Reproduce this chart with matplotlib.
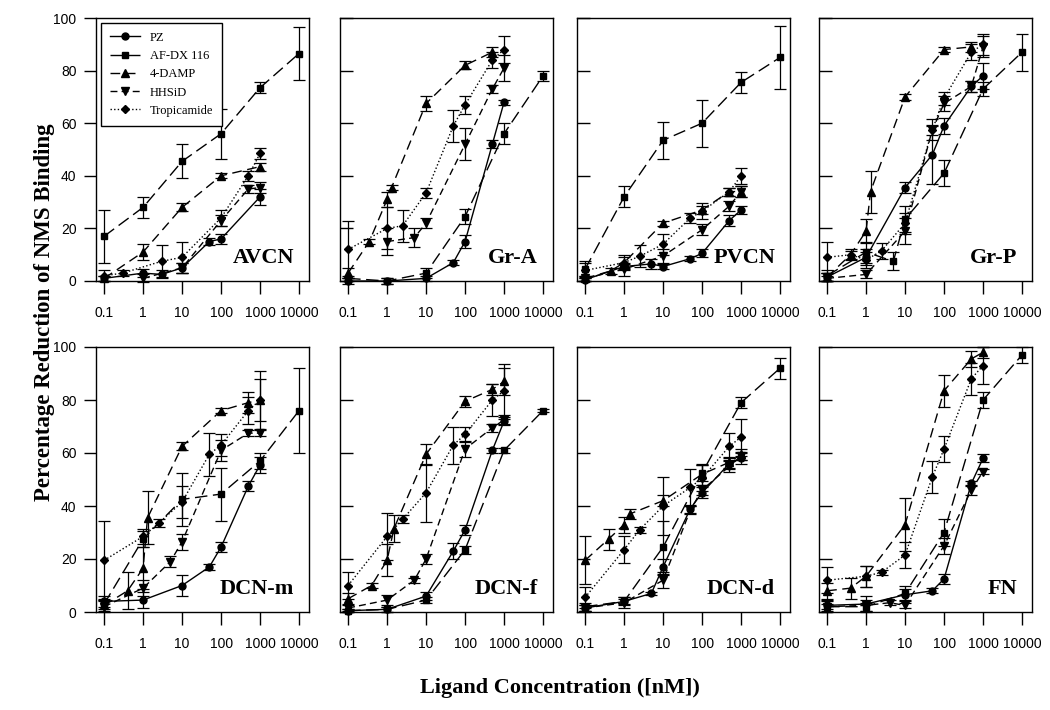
import matplotlib
matplotlib.use("Agg")
import matplotlib.pyplot as plt
from matplotlib.lines import Line2D

# drug names and line styles (order is the same inside every panel)
drugs = ["PZ", "AF-DX 116", "4-DAMP", "HHSiD", "Tropicamide"]
markers = ["o", "s", "^", "v", "D"]
marker_sizes = [5, 5, 5.5, 5.5, 4.5]
dashes = ["-", (0, (9, 4)), (0, (7, 4)), (0, (5, 3)), (0, (1, 1.6))]

# each series: (concentration nM, % reduction, error)
AVCN_PZ = ([0.1, 1, 3, 10, 50, 100, 1000], [1, 3, 2.5, 5, 15, 16, 32], [1, 1.5, 1.5, 2, 1.5, 2, 3])
AVCN_AFDX = ([0.1, 1, 10, 100, 1000, 10000], [17, 28, 45.5, 56, 73.5, 86.5], [10, 4, 6.5, 9.5, 2, 10])
AVCN_DAMP = ([0.1, 1, 10, 100, 1000], [1, 11, 28, 40, 43.5], [1, 3, 1.5, 1, 1.5])
AVCN_HHSID = ([1, 10, 100, 500, 1000], [1, 5, 23, 35, 35.5], [1.5, 2, 2, 1.5, 2])
AVCN_TROP = ([0.1, 0.3, 3, 10, 100, 500, 1000], [2, 3, 7.5, 9, 24, 40, 48.5], [2, 1, 6, 6, 3, 2, 2])

GRA_PZ = ([0.1, 1, 10, 50, 100, 500, 1000], [0, 0, 1, 7, 15, 52, 68], [1, 1, 1, 1, 2.5, 1.5, 1])
GRA_AFDX = ([0.1, 1, 10, 100, 1000, 10000], [1, 0, 3, 24.5, 56, 78], [1, 1, 2, 3, 4, 2])
GRA_DAMP = ([0.1, 0.35, 1, 1.3, 10, 100, 500], [3, 15, 31, 35.5, 67.5, 82, 87], [2, 1, 3, 1, 3, 1.5, 2])
GRA_HHSID = ([1, 5, 10, 100, 500, 1000], [15, 16.5, 22, 52, 73, 81], [5, 3.5, 2, 6, 1.5, 5])
GRA_TROP = ([0.1, 1, 2.5, 10, 50, 100, 500, 1000], [12, 20, 21, 33.5, 59, 67, 84, 88], [11, 8, 6, 2, 6, 3.5, 3, 5])

PVCN_PZ = ([0.1, 1, 5, 10, 50, 100, 500, 1000], [0.5, 5.5, 6.5, 5.5, 8.5, 10.5, 23, 27], [0.5, 1, 2, 1, 1, 1.5, 2, 1.5])
PVCN_AFDX = ([0.1, 1, 10, 100, 1000, 10000], [4.5, 32, 53.5, 60, 75.5, 85], [3, 4, 7, 9, 4, 12])
PVCN_DAMP = ([0.1, 0.45, 1, 10, 100, 500, 1000], [1, 3.8, 7, 22, 27, 34, 34], [1, 1, 2, 1, 1.5, 1.5, 2])
PVCN_HHSID = ([0.1, 1, 10, 100, 500, 1000], [1, 4.5, 9.5, 19.5, 28.5, 34], [1, 2.5, 2.5, 2, 2, 2])
PVCN_TROP = ([0.1, 1, 2.6, 10, 50, 100, 500, 1000], [4, 7, 9.5, 14, 24, 26.5, 34, 40], [3, 3, 4, 4, 2, 3, 1.5, 3])

GRP_PZ = ([0.1, 1, 10, 50, 100, 500, 1000], [1.5, 9, 35.5, 48, 59, 74, 78], [1.5, 3, 2, 11, 3, 2, 5])
GRP_AFDX = ([0.1, 1, 5, 10, 100, 1000, 10000], [2, 11, 7.5, 23.5, 41, 73, 87], [2, 4, 3.5, 5, 5, 2.5, 7])
GRP_DAMP = ([0.1, 0.4, 1, 1.3, 10, 100, 500], [1.5, 10, 19, 34, 70, 88, 89], [1.5, 2, 4.5, 8, 1, 1, 2])
GRP_HHSID = ([0.1, 1, 10, 50, 100, 500, 1000], [1, 2.5, 19, 57.5, 67.5, 74, 89], [1, 1.5, 5, 4, 3, 2, 4])
GRP_TROP = ([0.1, 0.4, 1, 2.5, 10, 50, 100, 500, 1000], [9, 10, 8, 11.5, 22, 57.5, 69.5, 87, 90], [6, 1.5, 3, 3, 4, 2, 2.5, 3, 4])

DCNM_PZ = ([0.1, 1, 10, 50, 100, 500, 1000], [4, 4.5, 10, 17, 24.5, 47.5, 55.5], [2, 3, 4, 1, 2, 2, 3])
DCNM_AFDX = ([0.1, 1, 10, 100, 1000, 10000], [3, 27.5, 42.5, 44.5, 57, 76], [2, 3, 10, 10, 3, 16])
DCNM_DAMP = ([0.1, 0.4, 1, 1.3, 10, 100, 500, 1000], [2.5, 8, 16.5, 35.5, 62.5, 76, 79, 80], [2, 7, 8, 10, 1.5, 1, 4, 11])
DCNM_HHSID = ([0.1, 1, 5, 10, 100, 500, 1000], [2, 9, 19, 26.5, 61, 67.5, 67.5], [2, 3, 2, 3, 4, 1, 1])
DCNM_TROP = ([0.1, 1, 2.5, 10, 50, 100, 500, 1000], [19.5, 28.5, 33.5, 41.5, 59.5, 63, 76, 80], [15, 3, 1.5, 6, 8, 4, 5, 8])

DCNF_PZ = ([0.1, 1, 10, 50, 100, 500, 1000], [0.5, 1, 6, 23, 31, 61, 72], [0.5, 1, 1.5, 3, 2, 1, 1])
DCNF_AFDX = ([0.1, 1, 10, 100, 1000, 10000], [0.5, 1, 4.5, 23.5, 61, 76], [0.5, 1, 1, 1.5, 1, 0.5])
DCNF_DAMP = ([0.1, 0.4, 1, 1.5, 10, 100, 500, 1000], [5, 10, 19.5, 31.5, 59.5, 79.5, 84, 87], [2, 1, 6, 5, 4, 2, 2, 5])
DCNF_HHSID = ([0.1, 1, 5, 10, 100, 500, 1000], [1.5, 4.5, 12, 20, 61.5, 69.5, 72.5], [1, 2, 1, 2, 3, 1.5, 2])
DCNF_TROP = ([0.1, 1, 2.5, 10, 50, 100, 500, 1000], [10, 28.5, 35, 45, 63, 67, 80, 83.5], [5, 9, 1.5, 11, 7, 3, 6, 10])

DCND_PZ = ([0.1, 1, 5, 10, 50, 100, 500, 1000], [1.5, 4, 7, 17, 39, 45, 56, 58], [1, 1, 0.5, 3, 1.5, 2, 2, 2])
DCND_AFDX = ([0.1, 1, 10, 100, 1000, 10000], [2, 4, 24.5, 52.5, 79, 92], [1.5, 1.5, 10, 3, 2, 4])
DCND_DAMP = ([0.1, 0.4, 1, 1.4, 10, 100, 500, 1000], [19.5, 27.5, 33, 37, 42, 52, 56.5, 59.5], [9, 4, 3, 2, 2, 4, 2, 2])
DCND_HHSID = ([0.1, 1, 10, 50, 100, 500, 1000], [1.5, 3.5, 12, 38.5, 46, 55, 59], [1, 2, 3, 1.5, 2, 2, 1.5])
DCND_TROP = ([0.1, 1, 2.5, 10, 50, 100, 500, 1000], [5.5, 23.5, 31, 40, 47, 50.5, 62.5, 66], [4, 5, 1, 11, 7, 5, 5, 7])

FN_PZ = ([0.1, 1, 10, 50, 100, 500, 1000], [2.5, 3, 6.5, 8, 12.5, 48.5, 58], [2, 3, 2, 1, 2, 1, 1.5])
FN_AFDX = ([0.1, 1, 10, 100, 1000, 10000], [2, 2, 7, 30, 80, 97], [2, 1.5, 3, 5, 3, 3])
FN_DAMP = ([0.1, 0.4, 1, 10, 100, 500, 1000], [8, 9, 13.5, 33, 83.5, 95.5, 98], [3, 4, 4, 10, 6, 3, 2])
FN_HHSID = ([0.1, 1, 4, 10, 100, 500, 1000], [2, 2.5, 3.5, 2.5, 25, 46, 53], [1, 2, 1, 1, 3, 2, 1])
FN_TROP = ([0.1, 1, 2.5, 10, 50, 100, 500, 1000], [12, 13.5, 15, 21.5, 51, 61.5, 88, 93], [5, 4, 1, 5, 6, 5, 6, 7])

regions = ["AVCN", "Gr-A", "PVCN", "Gr-P", "DCN-m", "DCN-f", "DCN-d", "FN"]
series = [
    [AVCN_PZ, AVCN_AFDX, AVCN_DAMP, AVCN_HHSID, AVCN_TROP],
    [GRA_PZ, GRA_AFDX, GRA_DAMP, GRA_HHSID, GRA_TROP],
    [PVCN_PZ, PVCN_AFDX, PVCN_DAMP, PVCN_HHSID, PVCN_TROP],
    [GRP_PZ, GRP_AFDX, GRP_DAMP, GRP_HHSID, GRP_TROP],
    [DCNM_PZ, DCNM_AFDX, DCNM_DAMP, DCNM_HHSID, DCNM_TROP],
    [DCNF_PZ, DCNF_AFDX, DCNF_DAMP, DCNF_HHSID, DCNF_TROP],
    [DCND_PZ, DCND_AFDX, DCND_DAMP, DCND_HHSID, DCND_TROP],
    [FN_PZ, FN_AFDX, FN_DAMP, FN_HHSID, FN_TROP],
]
xticks = [0.1, 1, 10, 100, 1000, 10000]
xticklabels = ["0.1", "1", "10", "100", "1000", "10000"]
yticks = [0, 20, 40, 60, 80, 100]

W, H = 1050, 710
fig = plt.figure(figsize=(10.5, 7.1), dpi=100)

lefts = [96, 340, 577, 819]
rows = [(18, 281), (347, 612)]
width = 213

serif = ["Liberation Serif", "DejaVu Serif"]
sans = ["Liberation Sans", "DejaVu Sans"]

for i, name in enumerate(regions):
    r, c = divmod(i, 4)
    top, bot = rows[r]
    ax = fig.add_axes([lefts[c] / W, 1 - bot / H, width / W, (bot - top) / H])
    for k in range(5):
        x, y, e = series[i][k]
        ax.errorbar(x, y, yerr=e, color="black", lw=1.0, ls=dashes[k],
                    marker=markers[k], ms=marker_sizes[k], elinewidth=0.9,
                    capsize=4, capthick=0.9, clip_on=False)
    ax.set_xscale("log")
    ax.set_xlim(0.062, 18000)
    ax.set_ylim(0, 100)
    ax.set_xticks(xticks)
    ax.set_xticklabels(xticklabels, family=sans, fontsize=10)
    ax.minorticks_off()
    ax.tick_params(axis="x", direction="out", length=9, width=1, pad=9)
    ax.set_yticks(yticks)
    if c == 0:
        ax.set_yticklabels([str(v) for v in yticks], family=sans, fontsize=10)
        ax.tick_params(axis="y", direction="out", length=9, width=1, pad=5)
    else:
        ax.set_yticklabels([])
        ax.tick_params(axis="y", direction="in", length=9, width=1)
    for s in ax.spines.values():
        s.set_linewidth(1.0)
    ax.text(0.93, 0.05, name, transform=ax.transAxes, ha="right", va="bottom",
            family=serif, fontweight="bold", fontsize=16)
    if i == 0:
        handles = [Line2D([], [], color="black", lw=1.0, ls=dashes[k],
                          marker=markers[k], ms=marker_sizes[k]) for k in range(5)]
        leg = ax.legend(handles, drugs, loc="upper left", bbox_to_anchor=(0.0, 1.0),
                        frameon=True, fancybox=False, edgecolor="black", framealpha=1,
                        prop={"family": serif, "size": 9}, handlelength=2.4,
                        labelspacing=0.5, borderpad=0.7, borderaxespad=0.4)
        leg.get_frame().set_linewidth(1.0)

fig.text(0.042, 0.56, "Percentage Reduction of NMS Binding", rotation=90,
         ha="center", va="center", family=serif, fontweight="bold", fontsize=16.5)
fig.text(0.533, 0.031, "Ligand Concentration ([nM])", ha="center", va="center",
         family=serif, fontweight="bold", fontsize=16)

fig.savefig("out.png", dpi=100)
